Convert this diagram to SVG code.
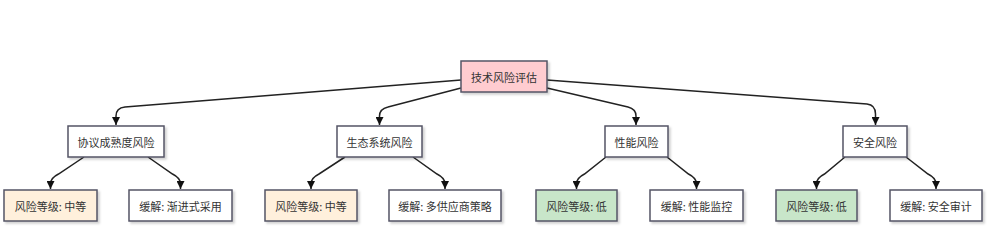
<svg xmlns="http://www.w3.org/2000/svg" width="1000" height="247" viewBox="0 0 1000 247">
<style>
.box{stroke:#555566;stroke-width:1.5;filter:url(#sh)}
.root{fill:#ffccd0}
.mid{fill:#ffffff}
.med{fill:#fff0dc}
.low{fill:#c8e6c9}
.mit{fill:#ffffff}
text{font-family:"Noto Sans CJK SC","Noto Sans",sans-serif;font-size:11px;fill:#333333;text-anchor:middle;dominant-baseline:central}
.edge{fill:none;stroke:#222222;stroke-width:1.5;marker-end:url(#arr)}
</style>
<defs>
<filter id="sh" x="-10%" y="-20%" width="130%" height="150%">
<feDropShadow dx="2" dy="2" stdDeviation="1" flood-color="#000" flood-opacity="0.18"/>
</filter>
<marker id="arr" markerUnits="userSpaceOnUse" markerWidth="8" markerHeight="8" viewBox="0 0 10 10" refX="10" refY="5" orient="auto">
<path d="M0,0 L10,5 L0,10 z" fill="#111111"/>
</marker>
</defs>
<g id="connectors">
<path class="edge" d="M461,80 L125,107 Q116,108 116,116 L116,125"/>
<path class="edge" d="M461,88 L388,107 Q379.5,109 379.5,116 L379.5,125"/>
<path class="edge" d="M547,88 L628,107 Q636,109 636,116 L636,125"/>
<path class="edge" d="M547,80 L867,104 Q875.5,105 875.5,114 L875.5,125"/>
<path class="edge" d="M84,157 L58.5,174 Q50.5,178 50.5,184 L50.5,189"/>
<path class="edge" d="M148,157 L172.5,174 Q180.5,178 180.5,184 L180.5,189"/>
<path class="edge" d="M345,157 L319,174 Q311,178 311,184 L311,189"/>
<path class="edge" d="M413,157 L437,174 Q445,178 445,184 L445,189"/>
<path class="edge" d="M606,157 L584.5,174 Q576.5,178 576.5,184 L576.5,189"/>
<path class="edge" d="M667,157 L688.5,174 Q696.5,178 696.5,184 L696.5,189"/>
<path class="edge" d="M845,157 L824.5,174 Q816.5,178 816.5,184 L816.5,189"/>
<path class="edge" d="M906,157 L928,174 Q936,178 936,184 L936,189"/>
</g>
<g id="root"><rect class="box root" x="461" y="61" width="86" height="31"/><text x="504" y="76.5">技术风险评估</text></g>
<g id="n1"><rect class="box mid" x="68" y="126" width="96" height="31"/><text x="116" y="141.5">协议成熟度风险</text></g>
<g id="n2"><rect class="box mid" x="337" y="126" width="85" height="31"/><text x="379.5" y="141.5">生态系统风险</text></g>
<g id="n3"><rect class="box mid" x="605" y="126" width="63" height="31"/><text x="636.5" y="141.5">性能风险</text></g>
<g id="n4"><rect class="box mid" x="843" y="126" width="64" height="31"/><text x="875" y="141.5">安全风险</text></g>
<g id="n1a"><rect class="box med" x="4" y="190" width="93" height="31"/><text x="50.5" y="205.5">风险等级: 中等</text></g>
<g id="n1b"><rect class="box mit" x="129" y="190" width="103" height="31"/><text x="180.5" y="205.5">缓解: 渐进式采用</text></g>
<g id="n2a"><rect class="box med" x="265" y="190" width="92" height="31"/><text x="311" y="205.5">风险等级: 中等</text></g>
<g id="n2b"><rect class="box mit" x="389" y="190" width="112" height="31"/><text x="445" y="205.5">缓解: 多供应商策略</text></g>
<g id="n3a"><rect class="box low" x="536" y="190" width="81" height="31"/><text x="576.5" y="205.5">风险等级: 低</text></g>
<g id="n3b"><rect class="box mit" x="650" y="190" width="93" height="31"/><text x="696.5" y="205.5">缓解: 性能监控</text></g>
<g id="n4a"><rect class="box low" x="776" y="190" width="81" height="31"/><text x="816.5" y="205.5">风险等级: 低</text></g>
<g id="n4b"><rect class="box mit" x="890" y="190" width="92" height="31"/><text x="936" y="205.5">缓解: 安全审计</text></g>
</svg>
